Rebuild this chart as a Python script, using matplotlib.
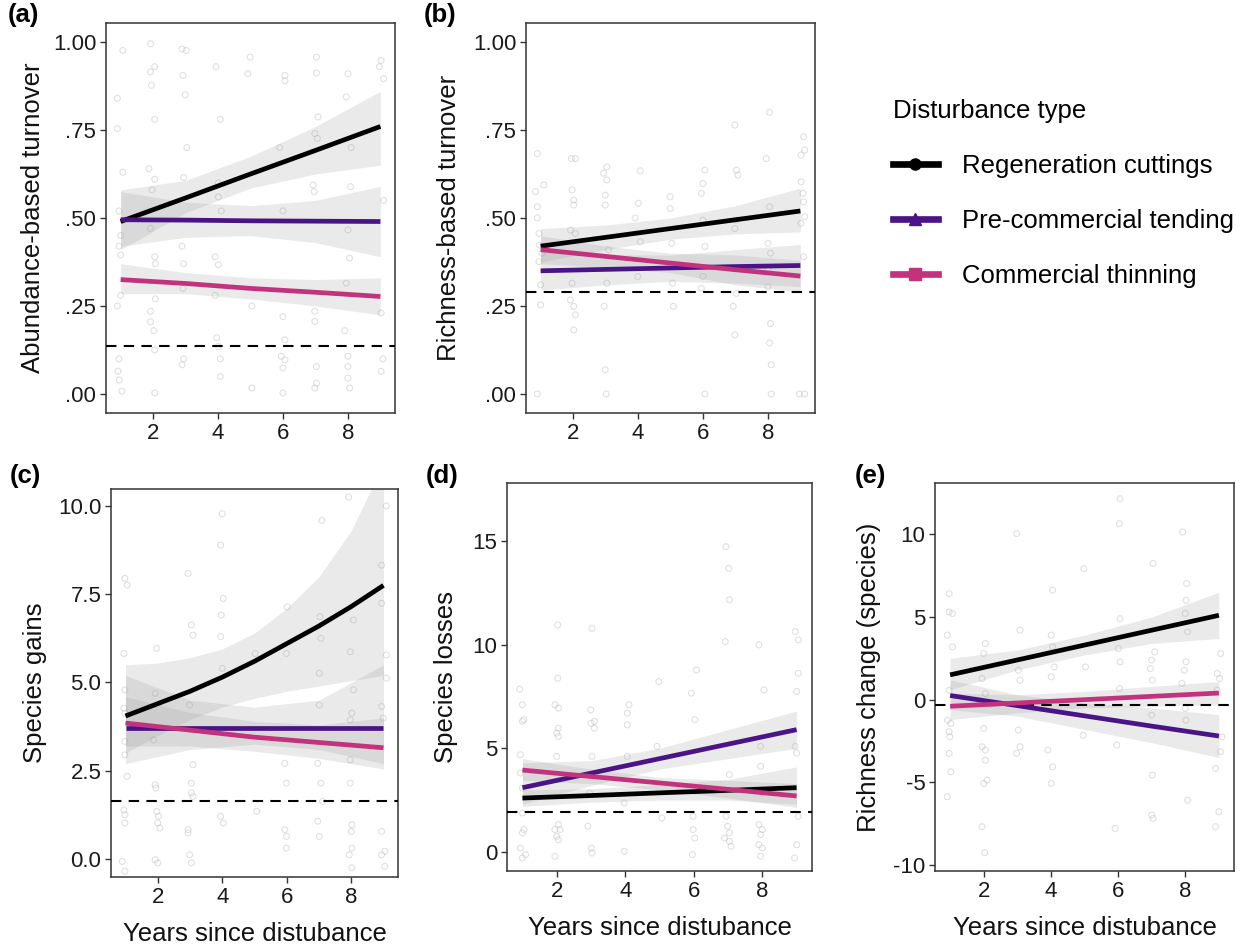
import matplotlib
matplotlib.use("Agg")
import matplotlib.pyplot as plt
from matplotlib.lines import Line2D

plt.rcParams['font.family'] = ['Liberation Sans', 'DejaVu Sans']

# ---------------- data ----------------
SERIES = ["Regeneration cuttings", "Pre-commercial tending", "Commercial thinning"]
COLORS = ["#000000", "#4a1486", "#c2327d"]
MARKERS = ["o", "^", "s"]
X5 = [1, 3, 5, 7, 9]
X9 = [1, 2, 3, 4, 5, 6, 7, 8, 9]

# (a) Abundance-based turnover
a_fit = {"Regeneration cuttings": [0.49, 0.557, 0.625, 0.692, 0.76],
         "Pre-commercial tending": [0.495, 0.494, 0.492, 0.491, 0.49],
         "Commercial thinning": [0.325, 0.314, 0.30, 0.289, 0.277]}
a_lo = {"Regeneration cuttings": [0.41, 0.515, 0.585, 0.625, 0.65],
        "Pre-commercial tending": [0.42, 0.445, 0.45, 0.43, 0.39],
        "Commercial thinning": [0.285, 0.285, 0.27, 0.25, 0.225]}
a_hi = {"Regeneration cuttings": [0.58, 0.607, 0.675, 0.76, 0.86],
        "Pre-commercial tending": [0.575, 0.545, 0.535, 0.55, 0.59],
        "Commercial thinning": [0.37, 0.345, 0.33, 0.325, 0.33]}
a_ref = 0.135
a_px = [0.9, 1.07, 0.9, 1.07, 0.95, 1.0, 0.95, 1.0, 1.0, 0.9, 0.95, 0.92, 0.96, 1.04,
        1.92, 1.92, 2.05, 1.95, 2.05, 1.87, 2.05, 1.97, 1.92, 2.05, 2.07, 2.07, 1.92, 1.92, 2.02, 2.05, 2.05,
        2.89, 3.02, 2.92, 2.99, 3.04, 2.94, 2.89, 2.94, 2.92, 2.94, 2.89,
        3.94, 4.07, 4.01, 4.01, 4.1, 3.91, 4.01, 3.91, 3.96, 4.01, 4.07, 4.07,
        4.99, 4.92, 5.04, 5.04,
        6.06, 6.06, 5.9, 6.0, 6.0, 5.95, 6.06, 6.0, 6.06, 6.0,
        7.03, 7.03, 7.08, 6.98, 7.06, 6.93, 6.96, 6.98, 6.98, 7.03, 6.98, 7.03,
        8.0, 7.95, 8.1, 8.08, 8.0, 8.05, 7.95, 7.9, 8.0, 8.0, 8.0, 8.05,
        9.02, 8.97, 9.1, 9.1, 9.02, 9.08, 9.02]
a_py = [0.84, 0.976, 0.754, 0.63, 0.52, 0.45, 0.42, 0.395, 0.28, 0.25, 0.10, 0.065, 0.04, 0.008,
        0.995, 0.915, 0.93, 0.877, 0.78, 0.64, 0.61, 0.58, 0.47, 0.39, 0.37, 0.27, 0.235, 0.205, 0.18, 0.125, 0.003,
        0.98, 0.976, 0.905, 0.85, 0.70, 0.615, 0.42, 0.37, 0.30, 0.10, 0.083,
        0.93, 0.78, 0.60, 0.56, 0.52, 0.39, 0.367, 0.28, 0.16, 0.135, 0.10, 0.05,
        0.957, 0.91, 0.25, 0.017,
        0.905, 0.89, 0.70, 0.52, 0.22, 0.107, 0.097, 0.074, 0.154, 0.003,
        0.957, 0.912, 0.787, 0.74, 0.726, 0.594, 0.575, 0.235, 0.206, 0.078, 0.017, 0.031,
        0.91, 0.844, 0.70, 0.589, 0.466, 0.386, 0.315, 0.18, 0.107, 0.078, 0.045, 0.017,
        0.948, 0.93, 0.896, 0.55, 0.23, 0.10, 0.064]

# (b) Richness-based turnover
b_fit = {"Regeneration cuttings": [0.42, 0.445, 0.47, 0.495, 0.52],
         "Pre-commercial tending": [0.35, 0.354, 0.358, 0.362, 0.365],
         "Commercial thinning": [0.41, 0.391, 0.372, 0.353, 0.335]}
b_lo = {"Regeneration cuttings": [0.375, 0.41, 0.44, 0.455, 0.46],
        "Pre-commercial tending": [0.295, 0.31, 0.32, 0.315, 0.305],
        "Commercial thinning": [0.37, 0.36, 0.345, 0.31, 0.29]}
b_hi = {"Regeneration cuttings": [0.47, 0.48, 0.50, 0.535, 0.585],
        "Pre-commercial tending": [0.405, 0.395, 0.395, 0.41, 0.425],
        "Commercial thinning": [0.45, 0.42, 0.40, 0.395, 0.38]}
b_ref = 0.29
b_px = [0.9, 0.84, 1.1, 0.9, 0.9, 0.95, 0.96, 1.04, 0.95, 1.0, 1.0, 0.9,
        1.95, 2.07, 1.97, 2.02, 2.02, 1.92, 2.07, 1.97, 1.92, 2.02, 2.07, 2.02,
        2.94, 3.04, 3.04, 2.99, 2.99, 3.09, 3.04, 2.96, 2.99, 3.02,
        4.07, 4.01, 3.91, 4.07, 3.99,
        4.99, 4.99, 5.04, 5.06, 5.09,
        6.06, 6.0, 5.95, 6.0, 6.06, 6.0, 5.95, 6.06,
        6.98, 7.03, 7.08, 7.03, 6.98, 7.03, 6.93, 6.98,
        8.05, 7.95, 8.05, 8.0, 8.08, 8.0, 8.0, 8.08, 8.05, 8.1, 8.1,
        9.1, 9.13, 9.02, 9.02, 9.08, 9.1, 9.13, 9.02, 9.1, 8.97, 9.13]
b_py = [0.683, 0.575, 0.594, 0.532, 0.50, 0.456, 0.423, 0.40, 0.376, 0.31, 0.253, 0.0,
        0.669, 0.669, 0.58, 0.551, 0.537, 0.466, 0.456, 0.315, 0.267, 0.249, 0.225, 0.182,
        0.627, 0.645, 0.608, 0.565, 0.537, 0.41, 0.315, 0.249, 0.069, 0.0,
        0.634, 0.542, 0.50, 0.433, 0.334,
        0.56, 0.527, 0.428, 0.315, 0.249,
        0.636, 0.598, 0.57, 0.494, 0.419, 0.334, 0.30, 0.0,
        0.764, 0.636, 0.622, 0.494, 0.47, 0.286, 0.249, 0.168,
        0.80, 0.669, 0.532, 0.428, 0.40, 0.353, 0.305, 0.20, 0.145, 0.083, 0.0,
        0.731, 0.693, 0.679, 0.603, 0.57, 0.546, 0.504, 0.485, 0.39, 0.0, 0.0]

# (c) Species gains
c_black_fit = [4.05, 4.4, 4.75, 5.15, 5.6, 6.1, 6.6, 7.15, 7.75]
c_black_lo = [3.0, 3.5, 3.95, 4.3, 4.55, 4.75, 4.9, 5.05, 5.2]
c_black_hi = [5.5, 5.55, 5.7, 5.95, 6.4, 7.1, 8.0, 9.3, 11.2]
c_purple_fit = [3.72, 3.72, 3.72, 3.72, 3.72]
c_purple_lo = [2.7, 3.1, 3.25, 3.1, 2.7]
c_purple_hi = [5.2, 4.5, 4.3, 4.5, 5.5]
c_pink_fit = [3.85, 3.65, 3.45, 3.3, 3.15]
c_pink_lo = [3.2, 3.2, 3.05, 2.85, 2.55]
c_pink_hi = [4.6, 4.15, 3.9, 3.8, 4.0]
c_ref = 1.65
c_px = [0.95, 0.95, 0.98, 0.98, 0.98, 1.05, 0.98, 0.98, 1.05, 0.95, 0.98, 0.98, 0.9, 0.98,
        1.97, 1.92, 1.87, 1.92, 1.94, 1.97, 2.02, 2.0, 2.07, 1.92, 2.0,
        2.94, 3.04, 3.09, 2.99, 3.09, 3.04, 3.04, 3.09, 2.94, 2.94, 2.99, 3.04,
        4.0, 3.95, 4.03, 3.97, 3.95, 4.0, 3.95, 4.03,
        5.02, 5.07,
        6.01, 5.99, 5.94, 5.99, 5.94, 5.99, 5.99,
        7.09, 7.03, 7.06, 7.01, 7.01, 6.96, 7.06, 6.96, 7.01, 7.11,
        7.92, 8.07, 7.97, 8.07, 8.02, 7.97, 7.97, 7.97, 8.02, 8.0, 8.02, 7.94, 8.02,
        9.09, 8.94, 8.94, 9.09, 9.09, 8.94, 8.99, 8.94, 9.04, 8.94, 9.04]
c_py = [5.82, 4.27, 4.13, 4.79, 7.95, 7.76, 3.33, 2.95, 2.34, 1.39, 1.25, 1.02, -0.07, -0.35,
        5.97, 4.69, 3.37, 2.10, 2.01, 1.35, 1.21, 1.02, 0.88, -0.02, -0.11,
        8.09, 6.63, 6.34, 4.36, 2.67, 2.15, 1.87, 1.77, 0.83, 0.74, 0.12, -0.11,
        9.78, 8.89, 7.38, 6.91, 6.30, 5.40, 1.21, 1.02,
        5.82, 1.35,
        7.14, 5.82, 2.71, 2.15, 0.83, 0.64, 0.31,
        9.59, 6.86, 6.25, 5.26, 4.36, 2.71, 2.15, 1.07, 0.64, 1.63,
        10.25, 6.77, 5.87, 4.79, 4.13, 3.94, 2.81, 2.15, 0.97, 0.78, 0.31, 0.12, -0.25,
        10.0, 8.32, 7.24, 5.78, 5.12, 4.32, 3.99, 0.78, 0.22, 0.12, -0.21]

# (d) Species losses
d_fit = {"Regeneration cuttings": [2.6, 2.72, 2.85, 2.97, 3.1],
         "Pre-commercial tending": [3.1, 3.8, 4.5, 5.2, 5.9],
         "Commercial thinning": [3.95, 3.64, 3.33, 3.02, 2.7]}
d_lo = {"Regeneration cuttings": [2.2, 2.4, 2.5, 2.5, 2.3],
        "Pre-commercial tending": [2.3, 3.2, 4.0, 4.5, 5.0],
        "Commercial thinning": [3.45, 3.3, 3.0, 2.6, 2.15]}
d_hi = {"Regeneration cuttings": [3.0, 3.05, 3.25, 3.5, 4.1],
        "Pre-commercial tending": [4.3, 4.4, 5.0, 5.9, 6.8],
        "Commercial thinning": [4.5, 4.0, 3.6, 3.45, 3.3]}
d_ref = 1.95
d_px = [0.92, 1.0, 1.04, 1.0, 0.94, 0.94, 1.0, 1.0, 1.04, 1.0, 0.94, 1.0, 1.09,
        2.03, 2.03, 1.95, 2.05, 2.05, 2.0, 2.05, 2.0, 2.05, 1.95, 2.1, 2.0, 2.05, 1.95,
        3.03, 2.99, 3.1, 3.0, 3.1, 3.03, 2.96, 2.91, 3.01, 3.03,
        4.11, 4.06, 4.06, 4.06, 3.97, 3.97,
        4.98, 4.93, 5.07,
        6.08, 5.93, 6.03, 5.98, 5.98, 6.03, 5.96,
        6.94, 7.02, 7.04, 6.92, 7.04, 6.94, 6.99, 7.04, 6.9, 7.04, 7.09,
        7.9, 8.05, 7.95, 7.95, 8.0, 7.9, 8.0, 7.95, 7.9, 8.0, 7.95,
        8.96, 9.05, 9.05, 9.0, 8.96, 9.0, 9.05, 9.0, 8.94]
d_py = [7.85, 7.1, 6.38, 6.3, 4.69, 3.81, 3.08, 1.88, 1.08, 0.92, 0.19, -0.29, -0.13,
        10.95, 8.38, 7.1, 6.94, 5.97, 5.73, 5.57, 4.61, 1.32, 1.08, 1.08, 0.75, 0.59, -0.21,
        10.79, 6.86, 6.3, 6.21, 5.97, 4.61, 2.84, 1.24, 0.19, -0.05,
        7.1, 6.7, 6.13, 4.61, 2.36, 0.03,
        8.22, 5.09, 1.64,
        8.78, 7.66, 6.38, 1.72, 1.08, 0.67, -0.13,
        14.73, 13.68, 12.16, 10.15, 3.73, 1.72, 1.24, 0.92, 0.67, 0.51, 0.27,
        9.99, 7.82, 5.09, 4.13, 2.84, 1.32, 1.08, 0.84, 0.35, 0.19, -0.21,
        10.63, 10.23, 8.62, 7.74, 5.09, 4.77, 1.72, 0.35, -0.29]

# (e) Richness change (species)
e_fit = {"Regeneration cuttings": [1.5, 2.4, 3.3, 4.2, 5.1],
         "Pre-commercial tending": [0.25, -0.36, -0.98, -1.6, -2.2],
         "Commercial thinning": [-0.4, -0.2, 0.0, 0.2, 0.4]}
e_lo = {"Regeneration cuttings": [0.6, 1.8, 2.7, 3.4, 3.7],
        "Pre-commercial tending": [-0.6, -1.0, -1.8, -2.6, -3.5],
        "Commercial thinning": [-1.2, -0.8, -0.5, -0.4, -0.3]}
e_hi = {"Regeneration cuttings": [2.5, 3.0, 3.9, 5.0, 6.5],
        "Pre-commercial tending": [1.2, 0.3, -0.2, -0.5, -0.9],
        "Commercial thinning": [0.4, 0.3, 0.5, 0.8, 1.1]}
e_ref = -0.35
e_px = [0.97, 0.97, 1.07, 0.92, 1.07, 0.97, 0.92, 1.02, 0.97, 0.99, 0.97, 1.02, 0.92,
        2.05, 2.0, 1.95, 2.05, 2.0, 1.95, 2.05, 2.05, 2.1, 2.0, 1.95, 2.03,
        2.98, 3.08, 3.03, 3.08, 3.03, 3.08, 2.98,
        4.05, 4.01, 4.05, 4.01, 4.1, 3.91, 4.05, 4.01,
        4.98, 5.03, 4.96,
        6.06, 6.04, 6.06, 6.01, 6.06, 6.04, 5.96, 5.91,
        7.04, 7.09, 7.0, 6.96, 7.02, 7.0, 7.02, 7.0, 7.04,
        7.92, 8.04, 8.02, 8.0, 8.07, 8.02, 7.97, 7.9, 8.0, 8.02, 8.07,
        8.95, 9.05, 9.02, 8.95, 9.09, 9.05, 8.9, 9.0, 8.9]
e_py = [6.41, 5.31, 5.21, 3.9, 3.19, 0.57, -1.24, -1.44, -1.94, -2.25, -3.25, -4.36, -5.87,
        3.39, 2.79, 1.28, 0.37, -1.74, -2.85, -3.05, -3.66, -4.86, -5.07, -7.68, -9.25,
        10.04, 4.2, 1.78, 1.18, -1.84, -2.85, -3.25,
        6.62, 3.9, 3.19, 1.38, 1.98, -3.05, -4.06, -5.07,
        7.93, 1.98, -2.15,
        12.15, 10.64, 4.9, 3.09, 2.29, 0.67, -2.75, -7.78,
        8.23, 2.89, 2.39, 1.88, 1.18, -0.94, -4.56, -6.98, -7.18,
        10.14, 7.02, 6.01, 5.21, 4.1, 2.29, 1.78, 0.98, -0.53, -1.24, -6.07,
        1.58, 2.79, 1.28, 0.57, -2.25, -3.15, -4.16, -6.78, -7.68]

X_TICKS = [2, 4, 6, 8]
YLABELS = ["Abundance-based turnover", "Richness-based turnover", "Species gains",
           "Species losses", "Richness change (species)"]
XLABEL = "Years since distubance"
TAGS = ["(a)", "(b)", "(c)", "(d)", "(e)"]

# ---------------- figure ----------------
W, H = 1242, 951
fig = plt.figure(figsize=(W / 100, H / 100), dpi=100)


def rect(l, t, r, b):
    return [l / W, 1 - b / H, (r - l) / W, (b - t) / H]


axes_px = [(106, 23, 395, 413), (526, 23, 815, 413),
           (111, 489, 398, 877), (507, 483, 812, 871), (935, 483, 1234, 871)]
axs = [fig.add_axes(rect(*p)) for p in axes_px]

TICK_FS = 16
LABEL_FS = 18.5
BAND_KW = dict(color="#999999", alpha=0.2, linewidth=0)
LINE_W = 3.4


def style(ax, ylim, yticks, ytlabels, ylabel, ylab_x, xlabel=None):
    ax.set_xlim(0.55, 9.45)
    ax.set_ylim(*ylim)
    ax.set_xticks(X_TICKS)
    ax.set_yticks(yticks)
    ax.set_yticklabels(ytlabels)
    ax.tick_params(direction="out", length=4, width=1.0, color="#333333",
                   labelsize=TICK_FS, labelcolor="#1a1a1a", pad=3)
    for s in ax.spines.values():
        s.set_color("#333333")
        s.set_linewidth(1.1)
    ax.set_ylabel(ylabel, fontsize=LABEL_FS, color="#111111")
    ax.yaxis.set_label_coords(ylab_x, 0.5)
    if xlabel:
        ax.set_xlabel(xlabel, fontsize=LABEL_FS, color="#111111")
        ax.xaxis.set_label_coords(0.5, -0.115)


def points(ax, xs, ys):
    ax.scatter(xs, ys, s=18, facecolors="none", edgecolors="#bbbbbb",
               linewidths=0.8, alpha=0.45, zorder=1)


def draw_series(ax, xs_list, fits, los, his, ref):
    for xs, lo, hi in zip(xs_list, los, his):
        ax.fill_between(xs, lo, hi, zorder=2, **BAND_KW)
    ax.axhline(ref, color="black", linestyle=(0, (5, 3.5)), linewidth=1.5, zorder=3)
    for xs, f, c in zip(xs_list, fits, COLORS):
        ax.plot(xs, f, color=c, linewidth=LINE_W, solid_capstyle="butt", zorder=4)


# (a)
points(axs[0], a_px, a_py)
draw_series(axs[0], [X5] * 3, [a_fit[s] for s in SERIES], [a_lo[s] for s in SERIES],
            [a_hi[s] for s in SERIES], a_ref)
style(axs[0], (-0.054, 1.054), [0, 0.25, 0.5, 0.75, 1.0],
      [".00", ".25", ".50", ".75", "1.00"], YLABELS[0], -0.212)

# (b)
points(axs[1], b_px, b_py)
draw_series(axs[1], [X5] * 3, [b_fit[s] for s in SERIES], [b_lo[s] for s in SERIES],
            [b_hi[s] for s in SERIES], b_ref)
style(axs[1], (-0.054, 1.054), [0, 0.25, 0.5, 0.75, 1.0],
      [".00", ".25", ".50", ".75", "1.00"], YLABELS[1], -0.225)

# (c)
points(axs[2], c_px, c_py)
draw_series(axs[2], [X9, X5, X5], [c_black_fit, c_purple_fit, c_pink_fit],
            [c_black_lo, c_purple_lo, c_pink_lo], [c_black_hi, c_purple_hi, c_pink_hi], c_ref)
style(axs[2], (-0.51, 10.48), [0, 2.5, 5, 7.5, 10],
      ["0.0", "2.5", "5.0", "7.5", "10.0"], YLABELS[2], -0.222, XLABEL)

# (d)
points(axs[3], d_px, d_py)
draw_series(axs[3], [X5] * 3, [d_fit[s] for s in SERIES], [d_lo[s] for s in SERIES],
            [d_hi[s] for s in SERIES], d_ref)
style(axs[3], (-0.92, 17.8), [0, 5, 10, 15], ["0", "5", "10", "15"],
      YLABELS[3], -0.16, XLABEL)

# (e)
points(axs[4], e_px, e_py)
draw_series(axs[4], [X5] * 3, [e_fit[s] for s in SERIES], [e_lo[s] for s in SERIES],
            [e_hi[s] for s in SERIES], e_ref)
style(axs[4], (-10.36, 13.1), [-10, -5, 0, 5, 10], ["-10", "-5", "0", "5", "10"],
      YLABELS[4], -0.18, XLABEL)

# panel tags
tag_pos = [(8, 3), (424, 3), (10, 464), (426, 464), (855, 464)]
for t, (x, y) in zip(TAGS, tag_pos):
    fig.text(x / W, 1 - y / H, t, fontsize=18.5, fontweight="bold", ha="left", va="top")

# legend
handles = [Line2D([], [], color=c, linewidth=4.8, marker=m, markersize=8)
           for c, m in zip(COLORS, MARKERS)]
fig.legend(handles, SERIES, title="Disturbance type", loc="upper left",
           bbox_to_anchor=(893 / W, 1 - 99 / H), frameon=False, fontsize=LABEL_FS,
           title_fontsize=LABEL_FS, alignment="left", handlelength=1.75,
           handletextpad=0.95, labelspacing=1.2, borderpad=0, borderaxespad=0)

fig.savefig("out.png", dpi=100)
